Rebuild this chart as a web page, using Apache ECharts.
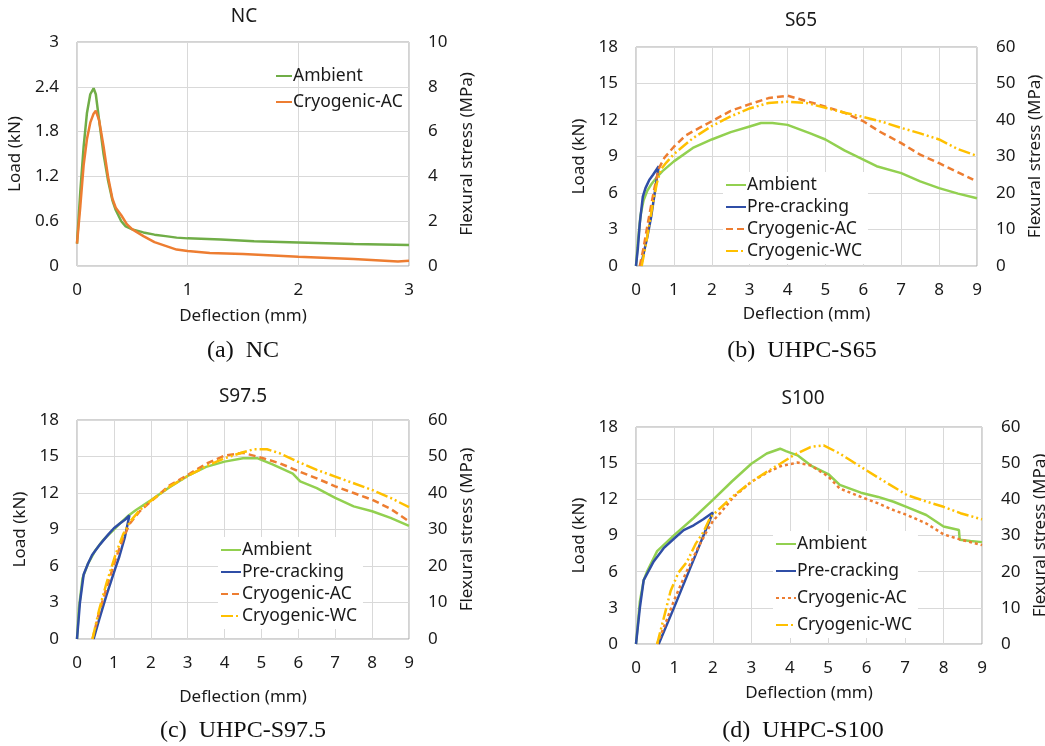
<!DOCTYPE html>
<html>
<head>
<meta charset="utf-8">
<title>Load-deflection curves</title>
<script src="https://cdn.jsdelivr.net/npm/echarts@6/dist/echarts.min.js"></script>
<style>
  html, body { margin: 0; padding: 0; background: #fff; }
  #wrap { position: relative; width: 1045px; height: 746px; overflow: hidden; }
  .panel { position: absolute; }
</style>
</head>
<body>
<div id="wrap">
  <div id="pa" class="panel" style="left:0;top:0;width:522px;height:373px"></div>
  <div id="pb" class="panel" style="left:522px;top:0;width:523px;height:373px"></div>
  <div id="pc" class="panel" style="left:0;top:373px;width:522px;height:373px"></div>
  <div id="pd" class="panel" style="left:522px;top:373px;width:523px;height:373px"></div>
</div>
<script>
// deflection (mm), load (kN)
var ncAmbient = [[0,0.30],[0.03,1.0],[0.06,1.6],[0.09,2.05],[0.12,2.3],[0.15,2.38],[0.17,2.3],[0.2,1.95],[0.24,1.5],[0.28,1.15],[0.32,0.88],[0.35,0.75],[0.4,0.6],[0.44,0.53],[0.5,0.49],[0.6,0.45],[0.7,0.42],[0.8,0.40],[0.9,0.38],[1.0,0.37],[1.3,0.355],[1.6,0.33],[2.0,0.315],[2.5,0.295],[3.0,0.28]];
var ncCryoAC = [[0,0.3],[0.03,0.8],[0.06,1.35],[0.09,1.7],[0.12,1.92],[0.15,2.04],[0.17,2.08],[0.2,1.95],[0.24,1.6],[0.28,1.2],[0.32,0.9],[0.35,0.78],[0.4,0.68],[0.45,0.56],[0.5,0.49],[0.6,0.40],[0.7,0.32],[0.8,0.27],[0.9,0.22],[1.0,0.2],[1.2,0.175],[1.5,0.16],[2.0,0.125],[2.5,0.095],[2.9,0.06],[3.0,0.07]];

var s65Ambient = [[0,0],[0.05,2.0],[0.12,4.2],[0.2,5.4],[0.3,6.2],[0.4,6.7],[0.55,7.3],[0.7,7.8],[1.0,8.6],[1.5,9.7],[2.0,10.4],[2.5,11.0],[3.0,11.47],[3.3,11.75],[3.6,11.75],[4.0,11.6],[4.6,10.9],[5.0,10.4],[5.5,9.5],[6.0,8.75],[6.35,8.2],[7.0,7.63],[7.5,6.95],[8.0,6.4],[8.5,5.95],[9.0,5.57]];
var s65Pre = [[0,0],[0.05,1.5],[0.1,3.5],[0.18,5.7],[0.25,6.4],[0.35,7.07],[0.45,7.5],[0.6,8.2],[0.55,7.2],[0.47,5.5],[0.4,4.05],[0.3,2.4],[0.22,1.3],[0.13,0]];
var s65CryoAC = [[0.1,0],[0.2,1.5],[0.3,3.3],[0.4,5.0],[0.5,6.6],[0.6,8.0],[0.75,8.9],[1.0,9.8],[1.3,10.7],[1.5,11.06],[2.0,11.9],[2.5,12.75],[3.0,13.3],[3.5,13.8],[4.0,14.0],[4.5,13.55],[5.0,13.1],[5.5,12.6],[6.0,11.9],[6.4,11.1],[7.0,10.1],[7.5,9.15],[8.0,8.45],[8.5,7.7],[8.9,7.1]];
var s65CryoWC = [[0.15,0],[0.25,1.6],[0.35,3.4],[0.45,5.2],[0.55,6.8],[0.65,7.9],[0.8,8.5],[1.0,9.2],[1.5,10.5],[2.0,11.5],[2.5,12.3],[3.0,12.95],[3.5,13.4],[4.0,13.5],[4.5,13.4],[5.0,13.0],[5.5,12.6],[6.0,12.25],[6.5,11.85],[7.0,11.35],[7.5,10.9],[8.0,10.4],[8.5,9.6],[9.0,9.05]];

var s975Ambient = [[0,0],[0.05,2.5],[0.15,5.0],[0.3,6.2],[0.5,7.3],[0.7,8.1],[1.0,9.0],[1.2,9.6],[1.4,10.15],[1.6,10.6],[2.0,11.4],[2.5,12.45],[3.0,13.4],[3.5,14.15],[4.0,14.58],[4.5,14.85],[4.9,14.85],[5.3,14.35],[5.85,13.6],[6.05,12.95],[6.5,12.4],[7.0,11.6],[7.5,10.9],[8.0,10.5],[8.5,9.95],[9.0,9.3]];
var s975Pre = [[0,0],[0.08,3.0],[0.18,5.3],[0.3,6.2],[0.41,6.9],[0.63,7.8],[0.85,8.6],[1.0,9.1],[1.17,9.52],[1.3,9.8],[1.42,10.15],[1.3,8.4],[1.15,6.8],[1.04,5.83],[0.8,3.6],[0.6,1.6],[0.45,0]];
var s975CryoAC = [[0.42,0],[0.6,2.2],[0.8,4.2],[1.04,6.5],[1.25,8.3],[1.44,9.52],[1.7,10.5],[2.0,11.3],[2.5,12.6],[3.0,13.48],[3.5,14.4],[4.0,15.07],[4.5,15.3],[5.0,14.9],[5.5,14.44],[6.0,13.8],[6.5,13.2],[7.0,12.55],[7.5,12.0],[8.0,11.45],[8.5,10.7],[9.0,9.66]];
var s975CryoWC = [[0.42,0],[0.6,2.4],[0.8,4.6],[1.04,6.9],[1.25,8.6],[1.44,9.65],[1.7,10.6],[2.0,11.35],[2.5,12.5],[3.0,13.4],[3.5,14.2],[4.0,14.85],[4.5,15.35],[4.8,15.6],[5.15,15.6],[5.5,15.26],[6.0,14.55],[6.5,13.9],[7.0,13.35],[7.5,12.8],[8.0,12.25],[8.5,11.6],[9.0,10.83]];

var s100Ambient = [[0,0],[0.1,3.5],[0.2,5.3],[0.3,6.1],[0.55,7.7],[1.0,9.05],[1.5,10.45],[2.0,11.95],[2.5,13.5],[3.0,14.95],[3.4,15.8],[3.75,16.2],[3.9,16.0],[4.2,15.65],[4.55,14.8],[5.0,14.1],[5.3,13.2],[5.85,12.55],[6.3,12.2],[6.7,11.8],[7.05,11.35],[7.55,10.7],[8.0,9.75],[8.4,9.45],[8.42,8.65],[8.7,8.55],[9.0,8.45]];
var s100Pre = [[0,0],[0.1,3.0],[0.2,5.3],[0.46,6.85],[0.72,7.95],[1.0,8.77],[1.24,9.45],[1.5,9.85],[1.75,10.35],[2.0,10.9],[1.5,7.0],[1.0,3.1],[0.59,0]];
var s100CryoAC = [[0.55,0],[0.8,2.0],[1.0,3.7],[1.3,5.9],[1.6,7.9],[1.85,9.4],[2.0,10.2],[2.2,10.9],[2.54,12.2],[3.0,13.45],[3.4,14.2],[3.76,14.75],[4.2,15.05],[4.55,14.8],[5.0,13.9],[5.3,12.9],[5.85,12.2],[6.3,11.66],[6.7,11.1],[7.05,10.7],[7.55,10.0],[8.0,9.1],[8.45,8.65],[9.0,8.2]];
var s100CryoWC = [[0.55,0],[0.75,2.5],[0.9,4.4],[1.1,5.9],[1.33,6.84],[1.55,8.3],[1.76,9.32],[1.93,10.5],[2.2,11.3],[2.54,12.3],[3.0,13.45],[3.4,14.28],[3.76,14.97],[4.1,15.66],[4.54,16.34],[4.88,16.48],[5.3,15.8],[5.67,15.05],[6.27,13.86],[7.05,12.35],[7.57,11.8],[8.0,11.38],[8.44,10.85],[9.0,10.34]];

var FONT = 'Noto Sans';
var TXT = '#1a1a1a';

function line(name, data, color, dash) {
  return {
    name: name, type: 'line', data: data,
    symbol: 'none', showSymbol: false,
    lineStyle: { color: color, width: 2.5, type: dash || 'solid' },
    itemStyle: { color: color }
  };
}

function makePanel(id, c) {
  var chart = echarts.init(document.getElementById(id));
  var option = {
    animation: false,
    textStyle: { fontFamily: FONT },
    grid: { left: c.grid[0], top: c.grid[1], width: c.grid[2], height: c.grid[3],
      outerBoundsMode: 'none', containLabel: false,
      show: true, borderColor: '#a6a6a6', borderWidth: 1 },
    xAxis: {
      type: 'value', min: 0, max: c.xMax, interval: 1,
      name: 'Deflection (mm)', nameLocation: 'middle', nameGap: c.xNameGap,
      nameTextStyle: { fontSize: 17, color: TXT, fontFamily: FONT },
      axisLine: { show: false }, axisTick: { show: false },
      axisLabel: { fontSize: 17, color: TXT, margin: 16, fontFamily: FONT },
      splitLine: { lineStyle: { color: '#d9d9d9', width: 1 } }
    },
    yAxis: [{
      type: 'value', position: 'left', min: 0, max: c.yMax, interval: c.yStep,
      name: 'Load (kN)', nameLocation: 'middle', nameGap: c.yNameGap, nameRotate: 90,
      nameTextStyle: { fontSize: 17, color: TXT, fontFamily: FONT },
      axisLine: { show: false }, axisTick: { show: false },
      axisLabel: { fontSize: 17, color: TXT, margin: 18, fontFamily: FONT },
      splitLine: { lineStyle: { color: '#d9d9d9', width: 1 } }
    }, {
      type: 'value', position: 'right', min: 0, max: c.rMax, interval: c.rStep,
      name: 'Flexural stress (MPa)', nameLocation: 'middle', nameGap: c.rNameGap, nameRotate: 90,
      nameTextStyle: { fontSize: 17, color: TXT, fontFamily: FONT },
      axisLine: { show: false }, axisTick: { show: false },
      axisLabel: { fontSize: 17, color: TXT, margin: 19, fontFamily: FONT },
      splitLine: { show: false }
    }],
    legend: {
      orient: 'vertical', left: c.legend[0], top: c.legend[1], itemGap: c.legend[2],
      itemWidth: c.legend[3], itemHeight: 12,
      itemStyle: { opacity: 0 },
      backgroundColor: c.legendBg ? '#fff' : 'transparent',
      padding: [4, 6, 4, 2],
      textStyle: { fontSize: 17.5, color: TXT, fontFamily: FONT, padding: [0, 0, 0, -4] },
      data: c.series.map(function (s) { return s.name; })
    },
    graphic: [{
      type: 'text', x: c.title[1], y: c.title[2],
      style: { text: c.title[0], font: '19px "Noto Sans"', fill: TXT, align: 'center', verticalAlign: 'middle' }
    }, {
      type: 'text', x: c.caption[1], y: c.caption[2],
      style: { text: c.caption[0], font: '24px "Liberation Serif"', fill: '#111', align: 'center', verticalAlign: 'middle' }
    }],
    series: c.series
  };
  chart.setOption(option);
  window.addEventListener('resize', function () { chart.resize(); });
}

var GREEN_NC = '#70ad47', GREEN = '#92d050', BLUE = '#2f4ea6', ORANGE = '#ed7d31', GOLD = '#ffc000';
var DASH = [7, 4], DASHDOT = [12, 3, 2, 3, 2, 3];

makePanel('pa', {
  grid: [77, 42, 332, 224], xMax: 3, yMax: 3, yStep: 0.6, rMax: 10, rStep: 2,
  xNameGap: 42, yNameGap: 46, rNameGap: 47,
  legend: [273, 63, 8, 16], legendBg: false,
  title: ['NC', 244, 17], caption: ['(a)  NC', 243, 351],
  series: [line('Ambient', ncAmbient, GREEN_NC), line('Cryogenic-AC', ncCryoAC, ORANGE)]
});

makePanel('pb', {
  grid: [114, 47, 341, 219], xMax: 9, yMax: 18, yStep: 3, rMax: 60, rStep: 10,
  xNameGap: 40, yNameGap: 44, rNameGap: 48,
  legend: [201, 172, 4, 20], legendBg: true,
  title: ['S65', 279, 21], caption: ['(b)  UHPC-S65', 280, 351],
  series: [line('Ambient', s65Ambient, GREEN), line('Pre-cracking', s65Pre, BLUE),
           line('Cryogenic-AC', s65CryoAC, ORANGE, DASH), line('Cryogenic-WC', s65CryoWC, GOLD, DASHDOT)]
});

makePanel('pc', {
  grid: [77, 47, 332, 219], xMax: 9, yMax: 18, yStep: 3, rMax: 60, rStep: 10,
  xNameGap: 50, yNameGap: 42, rNameGap: 47,
  legend: [218, 164, 4, 20], legendBg: true,
  title: ['S97.5', 243, 24], caption: ['(c)  UHPC-S97.5', 243, 358],
  series: [line('Ambient', s975Ambient, GREEN), line('Pre-cracking', s975Pre, BLUE),
           line('Cryogenic-AC', s975CryoAC, ORANGE, DASH), line('Cryogenic-WC', s975CryoWC, GOLD, DASHDOT)]
});

makePanel('pd', {
  grid: [114, 54, 346, 217], xMax: 9, yMax: 18, yStep: 3, rMax: 60, rStep: 10,
  xNameGap: 41, yNameGap: 44, rNameGap: 48,
  legend: [251, 158, 9, 20], legendBg: true,
  title: ['S100', 281, 26], caption: ['(d)  UHPC-S100', 281, 358],
  series: [line('Ambient', s100Ambient, GREEN), line('Pre-cracking', s100Pre, BLUE),
           line('Cryogenic-AC', s100CryoAC, ORANGE, [3, 3]), line('Cryogenic-WC', s100CryoWC, GOLD, DASHDOT)]
});
</script>
</body>
</html>
